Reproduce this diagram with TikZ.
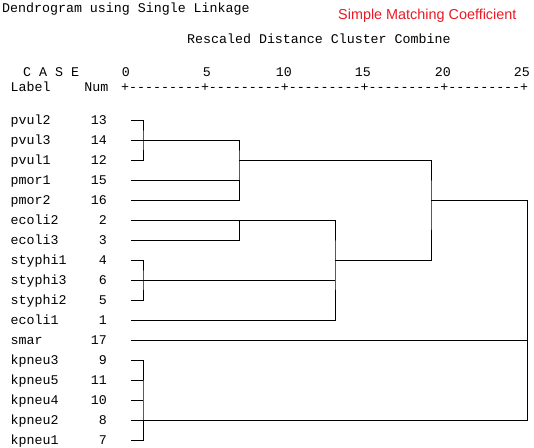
\documentclass[tikz,border=0pt]{standalone}
\usepackage{fontspec}
\newfontfamily\spssmono{Liberation Mono}
\newfontfamily\spsssans{Liberation Sans}
\usepackage{tikz}
\usetikzlibrary{
  positioning
}
\definecolor{spssred}{RGB}{235,25,35}
\tikzset{
  spssText/.style={
    font=\spssmono\fontsize{13.3}{14}\selectfont,
    inner sep=0pt
  },
  caseLabel/.style={
    spssText,
    anchor=base west
  },
  caseNum/.style={
    spssText,
    anchor=base east
  },
  coefTitle/.style={
    font=\spsssans\fontsize{14.4}{16}\selectfont,
    text=spssred,
    inner sep=0pt,
    anchor=base west
  },
  dendroLine/.style={
    line width=1pt,
    draw=black
  }
}

\begin{document}
\begin{tikzpicture}[x=1pt, y=-1pt]
  \useasboundingbox (0,0) rectangle (534,447);

  % headings
  \node[caseLabel] (title) at (2,12.5) {Dendrogram using Single Linkage};
  \node[coefTitle] (coef) at (338,19.5) {Simple Matching Coefficient};
  \node[caseLabel] (rescaled) at (187,43) {Rescaled Distance Cluster Combine};
  \node[caseLabel] (caseHead) at (23,76) {C A S E};
  \node[caseLabel] (labelHead) at (10.5,91) {Label};
  \node[caseNum] (numHead) at (108.5,91) {Num};

  % distance scale
  \foreach \d/\xx in {0/130,5/211,10/292,15/371,20/451,25/530}
    \node[caseNum] (scale\d) at (\xx,76) {\d};
  \node[caseLabel] (axis) at (121,91)
    {+---------+---------+---------+---------+---------+};

  % cases
  \foreach \lab/\num [count=\i from 0] in {
      pvul2/13, pvul3/14, pvul1/12, pmor1/15, pmor2/16,
      ecoli2/2, ecoli3/3, styphi1/4, styphi3/6, styphi2/5,
      ecoli1/1, smar/17, kpneu3/9, kpneu5/11, kpneu4/10,
      kpneu2/8, kpneu1/7} {
    \node[caseLabel] (lab\num) at (10.5,124+20*\i) {\lab};
    \node[caseNum] (num\num) at (107,124+20*\i) {\num};
    \coordinate (r\num) at (131,120+20*\i);
  }

  % merge points
  \coordinate (jPvul) at (143,140);
  \coordinate (jPs) at (239,160);
  \coordinate (jEcA) at (239,220);
  \coordinate (jSt) at (143,280);
  \coordinate (jEc) at (335,260);
  \coordinate (jTop) at (431,200);
  \coordinate (jRoot) at (527,340);
  \coordinate (jKp) at (143,400);

  % tree
  \draw[dendroLine] (r13) -| (jPvul) |- (r12);
  \draw[dendroLine] (r14) -| (jPs) |- (r16);
  \draw[dendroLine] (r15) -- (r15 -| jPs);
  \draw[dendroLine] (jPs) -| (jTop) |- (jEc);
  \draw[dendroLine] (r2) -| (jEc) |- (r1);
  \draw[dendroLine] (r3) -| (jEcA);
  \draw[dendroLine] (r4) -| (jSt) |- (r5);
  \draw[dendroLine] (r6) -- (r6 -| jEc);
  \draw[dendroLine] (jTop) -| (jRoot) |- (r8);
  \draw[dendroLine] (r17) -- (jRoot);
  \draw[dendroLine] (r9) -| (jKp) |- (r7);
  \draw[dendroLine] (r11) -- (r11 -| jKp);
  \draw[dendroLine] (r10) -- (r10 -| jKp);
\end{tikzpicture}
\end{document}
